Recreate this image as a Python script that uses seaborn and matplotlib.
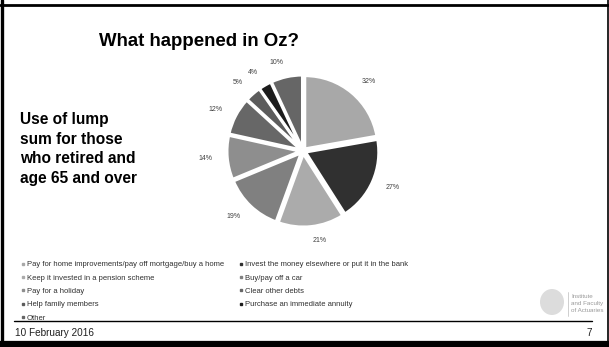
import matplotlib
matplotlib.use("Agg")
import matplotlib.pyplot as plt
import seaborn as sns
from matplotlib.lines import Line2D
from matplotlib.patches import Ellipse

# Survey categories (legend order) and share of respondents (%)
categories = [
    "Pay for home improvements/pay off mortgage/buy a home",
    "Invest the money elsewhere or put it in the bank",
    "Keep it invested in a pension scheme",
    "Buy/pay off a car",
    "Pay for a holiday",
    "Clear other debts",
    "Help family members",
    "Purchase an immediate annuity",
    "Other",
]
shares = [32, 27, 21, 19, 14, 12, 5, 4, 10]
slice_colors = ["#a8a8a8", "#303030", "#ababab", "#808080", "#8e8e8e",
                "#676767", "#5c5c5c", "#1c1c1c", "#666666"]

sns.set_theme(style="white")
plt.rcParams["font.family"] = ["Liberation Sans", "DejaVu Sans"]

W, H = 609, 347
fig = plt.figure(figsize=(W / 100, H / 100), dpi=100)
fig.patch.set_facecolor("white")


def fx(px):
    return px / W


def fy(py):
    return 1 - py / H


# Pie axes, centred on the slide
cx, cy, r = 303, 151, 73
half = r * 1.45
ax = fig.add_axes([fx(cx - half), fy(cy + half), 2 * half / W, 2 * half / H])
wedges, texts = ax.pie(
    shares,
    colors=slice_colors,
    startangle=90,
    counterclock=False,
    explode=[0.04] * len(shares),
    labels=[f"{v}%" for v in shares],
    labeldistance=1.2,
    textprops={"fontsize": 5, "color": "#404040"},
    wedgeprops={"edgecolor": "white", "linewidth": 2.0},
)
ax.set_xlim(-1.45, 1.45)
ax.set_ylim(-1.45, 1.45)
ax.set_aspect("equal")
ax.axis("off")

# Title and side caption
fig.text(fx(199), fy(41), "What happened in Oz?", fontsize=13.4, fontweight="bold",
         ha="center", va="center", color="black")
fig.text(fx(20), fy(112), "Use of lump\nsum for those\nwho retired and\nage 65 and over",
         fontsize=11.2, fontweight="bold", ha="left", va="top", color="black",
         linespacing=1.38)

# Legend: two columns, filled row by row
order = [0, 2, 4, 6, 8, 1, 3, 5, 7]
handles = [Line2D([], [], marker="s", linestyle="none", markersize=2.0,
                  markerfacecolor=slice_colors[i], markeredgecolor=slice_colors[i])
           for i in order]
labels = [categories[i] for i in order]
fig.legend(handles, labels, ncol=2, loc="upper left",
           bbox_to_anchor=(fx(21), fy(261)), frameon=False,
           fontsize=5.5, labelcolor="#303030", handlelength=0.5,
           handletextpad=0.25, labelspacing=0.78, columnspacing=2.0,
           borderaxespad=0, borderpad=0)

# Footer rule, date and page number
fig.add_artist(Line2D([fx(14), fx(592)], [fy(321), fy(321)], color="black", linewidth=1.0))
fig.text(fx(15), fy(333), "10 February 2016", fontsize=7.2, color="#202020",
         ha="left", va="center")
fig.text(fx(592), fy(333), "7", fontsize=7.2, color="#202020", ha="right", va="center")

# Institute and Faculty of Actuaries mark
fig.add_artist(Ellipse((fx(552), fy(302)), 24 / W, 26 / H, color="#dcdcdc", lw=0))
fig.add_artist(Line2D([fx(568), fx(568)], [fy(292), fy(316)], color="#c8c8c8", linewidth=0.6))
for i, t in enumerate(["Institute", "and Faculty", "of Actuaries"]):
    fig.text(fx(571), fy(297 + 7 * i), t, fontsize=4.5, color="#9a9a9a",
             ha="left", va="center")

# Slide frame
fig.add_artist(Line2D([fx(0), fx(609)], [fy(4.5), fy(4.5)], color="black", linewidth=2.0))
fig.add_artist(Line2D([fx(1.5), fx(1.5)], [fy(0), fy(347)], color="black", linewidth=2.4))
fig.add_artist(Line2D([fx(0), fx(609)], [fy(344), fy(344)], color="black", linewidth=4.5))
fig.add_artist(Line2D([fx(608), fx(608)], [fy(0), fy(347)], color="black", linewidth=1.2))

fig.savefig("out.png", dpi=100)
